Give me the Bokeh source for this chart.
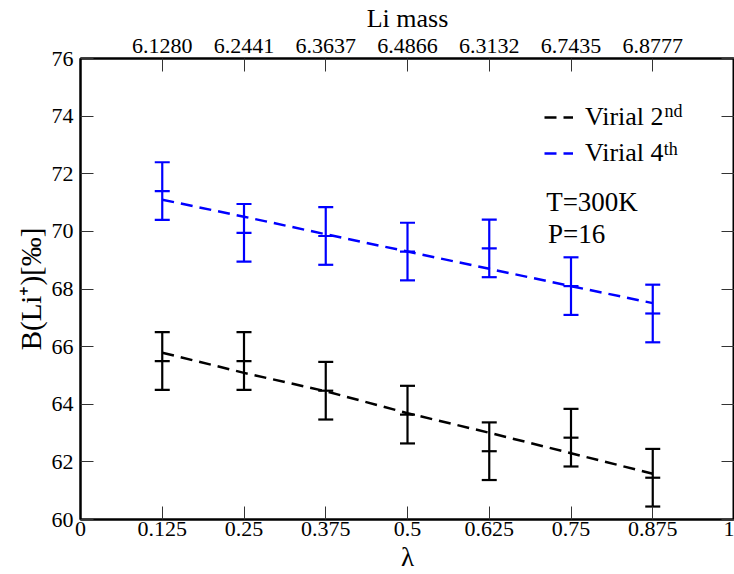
from bokeh.plotting import figure
from bokeh.models import (LinearAxis, FixedTicker, Range1d, Label, Legend, LegendItem,
                          CustomJSTickFormatter)
from bokeh.embed import file_html
from bokeh.resources import INLINE

# ---- data ----
lam = [0.125, 0.25, 0.375, 0.5, 0.625, 0.75, 0.875]
li_mass = ["6.1280", "6.2441", "6.3637", "6.4866", "6.3132", "6.7435", "6.8777"]

b_2nd = [65.50, 65.50, 64.47, 63.64, 62.37, 62.84, 61.45]
err_2nd = [1.0, 1.0, 1.0, 1.0, 1.0, 1.0, 1.0]
fit_2nd = [65.79, 65.09, 64.45, 63.69, 63.01, 62.30, 61.59]

b_4th = [71.40, 69.95, 69.84, 69.30, 69.41, 68.10, 67.15]
err_4th = [1.0, 1.0, 1.0, 1.0, 1.0, 1.0, 1.0]
fit_4th = [71.10, 70.51, 69.90, 69.30, 68.70, 68.10, 67.51]

x_ticks = [0.0, 0.125, 0.25, 0.375, 0.5, 0.625, 0.75, 0.875, 1.0]
x_tick_labels = ["0", "0.125", "0.25", "0.375", "0.5", "0.625", "0.75", "0.875", "1"]
y_ticks = [60, 62, 64, 66, 68, 70, 72, 74, 76]
y_tick_labels = ["60", "62", "64", "66", "68", "70", "72", "74", "76"]

FONT = "Liberation Serif"
FONT_Q = '"Liberation Serif"'
BLUE = "#0000ff"
BLACK = "#000000"

p = figure(width=734, height=574, x_range=Range1d(0, 1), y_range=Range1d(60, 76),
           output_backend="svg", toolbar_location=None)
p.min_border_left = 80
p.min_border_right = 0
p.min_border_top = 58
p.min_border_bottom = 55
p.grid.visible = False
p.outline_line_color = "black"
p.outline_line_width = 2
p.background_fill_color = "white"
p.border_fill_color = "white"

def fmt(tk, lb):
    return CustomJSTickFormatter(args=dict(tk_vals=tk, tk_labels=lb), code="""
        for (let i = 0; i < tk_vals.length; i++) {
            if (Math.abs(tk_vals[i] - tick) < 1e-9) return tk_labels[i];
        }
        return "";
    """)

bx = p.below[0]
ly = p.left[0]
top = LinearAxis()
right = LinearAxis()
p.add_layout(top, "above")
p.add_layout(right, "right")

for ax in [bx, ly, top, right]:
    ax.axis_line_width = 2
    ax.axis_line_color = "black"
    ax.major_tick_in = 13
    ax.major_tick_out = 0
    ax.minor_tick_in = 0
    ax.minor_tick_out = 0
    ax.major_tick_line_width = 1
    ax.major_tick_line_color = "#333333"
    ax.major_label_text_font = FONT_Q
    ax.major_label_text_font_size = "22px"
    ax.major_label_text_color = "black"
    ax.axis_label_text_font = FONT_Q
    ax.axis_label_text_font_style = "normal"
    ax.axis_label_text_color = "black"

bx.ticker = FixedTicker(ticks=x_ticks)
bx.formatter = fmt(x_ticks, x_tick_labels)
bx.axis_label = "λ"
bx.axis_label_text_font_size = "27px"
bx.major_label_standoff = 2
bx.axis_label_standoff = 3

ly.ticker = FixedTicker(ticks=y_ticks)
ly.formatter = fmt(y_ticks, y_tick_labels)
ly.axis_label = "B(Li⁺)[‰]"
ly.axis_label_text_font_size = "29px"
ly.major_label_standoff = 7
ly.axis_label_standoff = 2

top.ticker = FixedTicker(ticks=lam)
top.formatter = fmt(lam, li_mass)
top.axis_label = "Li mass"
top.axis_label_text_font_size = "26px"
top.major_label_standoff = 6
top.axis_label_standoff = 3

right.ticker = FixedTicker(ticks=y_ticks)
right.formatter = fmt([], [])
right.major_label_text_font_size = "0px"
right.major_label_standoff = -6

# fit lines
l2 = p.line(lam, fit_2nd, line_color=BLACK, line_width=2.5, line_dash="12 7")
l4 = p.line(lam, fit_4th, line_color=BLUE, line_width=2.5, line_dash="12 7")

# error bars
for vals, errs, col in [(b_2nd, err_2nd, BLACK), (b_4th, err_4th, BLUE)]:
    lo = [v - e for v, e in zip(vals, errs)]
    hi = [v + e for v, e in zip(vals, errs)]
    p.segment(x0=lam, y0=lo, x1=lam, y1=hi, line_color=col, line_width=2.2)
    p.scatter(lam, lo, marker="dash", size=15, line_color=col, line_width=2.2)
    p.scatter(lam, hi, marker="dash", size=15, line_color=col, line_width=2.2)
    p.scatter(lam, vals, marker="dash", size=15, line_color=col, line_width=2.2)

legend = Legend(items=[LegendItem(label="Virial 2", renderers=[l2]),
                       LegendItem(label="Virial 4", renderers=[l4])],
                location=(464, 351), orientation="vertical")
legend.label_text_font = FONT_Q
legend.label_text_font_size = "26px"
legend.label_text_color = "black"
legend.glyph_width = 29
legend.glyph_height = 20
legend.label_standoff = 12
legend.spacing = 6
legend.padding = 0
legend.margin = 0
legend.border_line_alpha = 0
legend.background_fill_alpha = 0
p.add_layout(legend)

for txt, x, y, size in [("nd", 0.893, 74.18, "18px"), ("th", 0.892, 72.87, "18px"),
                        ("T=300K", 0.712, 71.02, "27px"), ("P=16", 0.7147, 69.92, "27px")]:
    p.add_layout(Label(x=x, y=y, text=txt, text_font=FONT, text_font_size=size,
                       text_color="black", text_align="left", text_baseline="alphabetic"))

open("out.html", "w").write(file_html(p, INLINE))
